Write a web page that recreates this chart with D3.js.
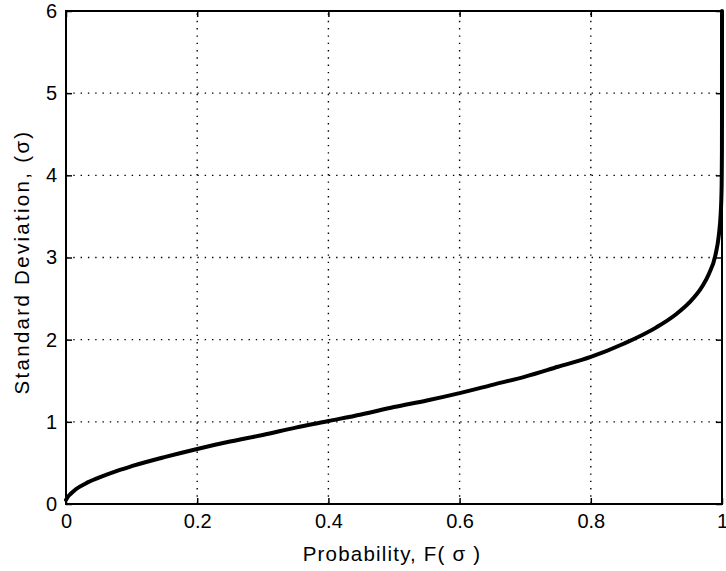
<!DOCTYPE html>
<html>
<head>
<meta charset="utf-8">
<script src="https://cdn.jsdelivr.net/npm/d3@7/dist/d3.min.js"></script>
<style>
html,body{margin:0;padding:0;background:#fff;}
svg{display:block;}
text{font-family:"Liberation Sans",Arial,Helvetica,sans-serif;fill:#000;}
</style>
</head>
<body>
<svg id="chart" width="726" height="571"></svg>
<script>
// Values
const probability = [0, 0.003, 0.008, 0.015, 0.03, 0.05, 0.08, 0.1, 0.15, 0.2, 0.25, 0.3, 0.35, 0.4, 0.45, 0.5, 0.55, 0.6, 0.65, 0.7, 0.75, 0.8, 0.85, 0.9, 0.93, 0.95, 0.97, 0.98, 0.99, 0.995, 0.998, 0.999, 0.9995, 0.9999, 0.99999, 1.0];
const stdDev      = [0.05, 0.09, 0.13, 0.18, 0.25, 0.32, 0.41, 0.46, 0.57, 0.67, 0.76, 0.84, 0.93, 1.01, 1.09, 1.18, 1.26, 1.35, 1.45, 1.55, 1.67, 1.79, 1.95, 2.15, 2.31, 2.45, 2.65, 2.80, 3.03, 3.26, 3.53, 3.72, 3.90, 4.29, 4.80, 6.0];
const xTicks = [0, 0.2, 0.4, 0.6, 0.8, 1];
const xTickLabels = ["0", "0.2", "0.4", "0.6", "0.8", "1"];
const yTicks = [0, 1, 2, 3, 4, 5, 6];
const yTickLabels = ["0", "1", "2", "3", "4", "5", "6"];
const xLabel = "Probability, F( σ )";
const yLabel = "Standard Deviation, (σ)";

const svg = d3.select("#chart");
const L = 66, R = 722, T = 11, B = 504;
const x = d3.scaleLinear().domain([0, 1]).range([L, R]);
const y = d3.scaleLinear().domain([0, 6]).range([B, T]);

// grid
const grid = svg.append("g").attr("stroke", "#000").attr("stroke-width", 1.4)
  .attr("stroke-dasharray", "1.4,5.9");
grid.selectAll(".gx").data(xTicks.slice(1, -1)).enter().append("line")
  .attr("x1", d => x(d)).attr("x2", d => x(d)).attr("y1", B).attr("y2", T);
grid.selectAll(".gy").data(yTicks.slice(1, -1)).enter().append("line")
  .attr("y1", d => y(d)).attr("y2", d => y(d)).attr("x1", L).attr("x2", R);

// curve
const line = d3.line().x((d, i) => x(probability[i])).y(d => y(d)).curve(d3.curveMonotoneX);
svg.append("path").datum(stdDev).attr("d", line)
  .attr("fill", "none").attr("stroke", "#000").attr("stroke-width", 4)
  .attr("stroke-linejoin", "round").attr("stroke-linecap", "round");

// axes (MATLAB style, ticks inside)
const tickLen = 6;
const xAxisB = d3.axisBottom(x).tickValues(xTicks).tickSize(-tickLen).tickPadding(10)
  .tickFormat((d, i) => xTickLabels[i]);
const xAxisT = d3.axisTop(x).tickValues(xTicks).tickSize(-tickLen).tickFormat("");
const yAxisL = d3.axisLeft(y).tickValues(yTicks).tickSize(-tickLen).tickPadding(9)
  .tickFormat((d, i) => yTickLabels[i]);
const yAxisR = d3.axisRight(y).tickValues(yTicks).tickSize(-tickLen).tickFormat("");

function style(g) {
  g.select(".domain").remove();
  g.selectAll(".tick line").attr("stroke", "#000").attr("stroke-width", 1.5);
  g.selectAll(".tick text").attr("font-size", 20).attr("font-family", "Liberation Sans, Arial, sans-serif").attr("fill", "#000");
}
svg.append("g").attr("transform", `translate(0,${B})`).call(xAxisB).call(style);
svg.append("g").attr("transform", `translate(0,${T})`).call(xAxisT).call(style);
svg.append("g").attr("transform", `translate(${L},0)`).call(yAxisL).call(style);
svg.append("g").attr("transform", `translate(${R},0)`).call(yAxisR).call(style);

// box
svg.append("rect").attr("x", L).attr("y", T).attr("width", R - L).attr("height", B - T)
  .attr("fill", "none").attr("stroke", "#000").attr("stroke-width", 2);

// labels
svg.append("text").attr("x", 392).attr("y", 561).attr("text-anchor", "middle")
  .attr("font-size", 20.5).attr("letter-spacing", "1.2px").text(xLabel);
svg.append("text").attr("transform", `translate(29,262) rotate(-90)`)
  .attr("text-anchor", "middle").attr("font-size", 20.5).attr("letter-spacing", "2.3px").text(yLabel);
</script>
</body>
</html>
